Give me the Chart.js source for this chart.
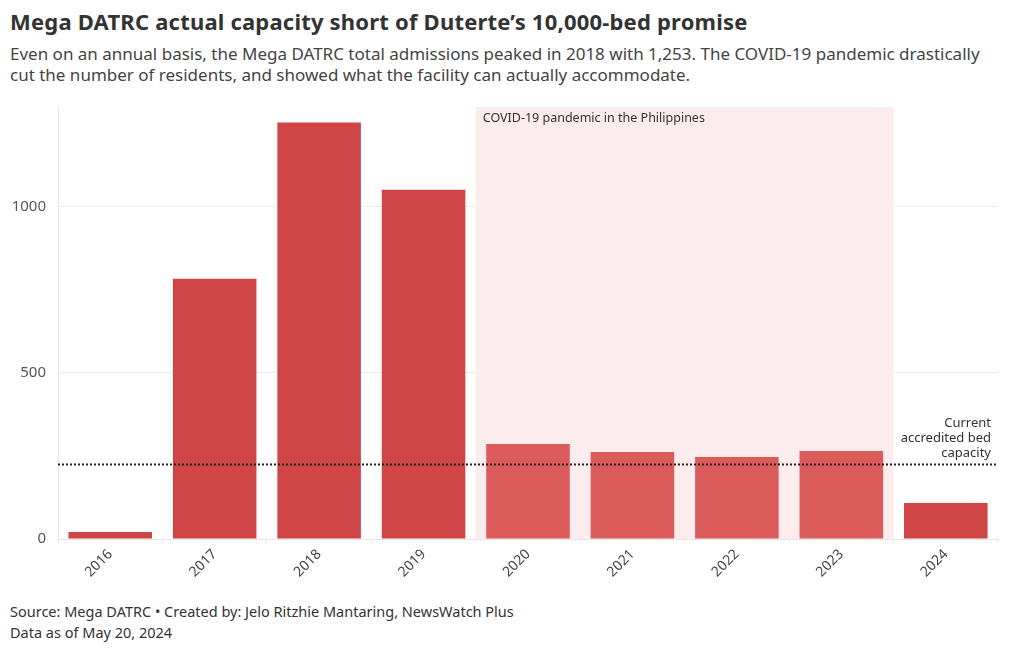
<!DOCTYPE html>
<html>
<head>
<meta charset="utf-8">
<script src="https://cdn.jsdelivr.net/npm/chart.js@4"></script>
<style>
  body { margin: 0; background: #fff; font-family: "Noto Sans", sans-serif; color: #333; }
  #title { position: absolute; left: 10px; top: 6px; font-size: 22px; font-weight: 700; letter-spacing: 0.2px; }
  #subtitle { position: absolute; left: 10px; top: 43px; width: 985px; font-size: 17px; line-height: 21px; color: #444; }
  #wrap { position: absolute; left: 0; top: 86px; width: 1020px; height: 514px; }
  #footer { position: absolute; left: 10px; top: 601px; font-size: 14.5px; line-height: 21px; color: #333; }
</style>
</head>
<body>
<div id="title">Mega DATRC actual capacity short of Duterte’s 10,000-bed promise</div>
<div id="subtitle">Even on an annual basis, the Mega DATRC total admissions peaked in 2018 with 1,253. The COVID-19 pandemic drastically cut the number of residents, and showed what the facility can actually accommodate.</div>
<div id="wrap"><canvas id="chart"></canvas></div>
<div id="footer">Source: Mega DATRC • Created by: Jelo Ritzhie Mantaring, NewsWatch Plus<br>Data as of May 20, 2024</div>
<script>
// ================= DATA =================
const years = ["2016", "2017", "2018", "2019", "2020", "2021", "2022", "2023", "2024"];
const admissions = [21, 783, 1253, 1051, 286, 262, 247, 265, 108];
const covidYears = ["2020", "2021", "2022", "2023"];
const bedCapacity = 226;
const yTicks = [0, 500, 1000];

const barColor = "#cf4545";
const covidBarColor = "#db5b5b";

// ================= PLUGINS =================
const covidShade = {
  id: "covidShade",
  beforeDatasetsDraw(chart) {
    const { ctx, chartArea, scales: { x } } = chart;
    const band = x.getPixelForValue(1) - x.getPixelForValue(0);
    const first = years.indexOf(covidYears[0]);
    const last = years.indexOf(covidYears[covidYears.length - 1]);
    const left = x.getPixelForValue(first) - band / 2;
    const right = x.getPixelForValue(last) + band / 2;
    ctx.save();
    ctx.fillStyle = "#fdeced";
    ctx.fillRect(left, chartArea.top, right - left, chartArea.bottom - chartArea.top);
    ctx.fillStyle = "#333";
    ctx.font = "12.5px 'Noto Sans'";
    ctx.textBaseline = "middle";
    ctx.fillText("COVID-19 pandemic in the Philippines", left + 7, chartArea.top + 11);
    ctx.restore();
  }
};

const capacityLine = {
  id: "capacityLine",
  afterDatasetsDraw(chart) {
    const { ctx, chartArea, scales: { y } } = chart;
    const py = Math.round(y.getPixelForValue(bedCapacity)) + 0.5;
    ctx.save();
    ctx.strokeStyle = "#222";
    ctx.lineWidth = 2;
    ctx.setLineDash([2, 2]);
    ctx.beginPath();
    ctx.moveTo(chartArea.left, py);
    ctx.lineTo(chartArea.right, py);
    ctx.stroke();
    ctx.fillStyle = "#333";
    ctx.font = "13px 'Noto Sans'";
    ctx.textAlign = "right";
    ctx.textBaseline = "middle";
    const lines = ["Current", "accredited bed", "capacity"];
    lines.forEach((t, i) => ctx.fillText(t, chartArea.right - 7, py - 41 + i * 15));
    ctx.restore();
  }
};

// ================= CHART =================
Chart.defaults.font.family = "'Noto Sans', sans-serif";
Chart.defaults.color = "#333";

new Chart(document.getElementById("chart"), {
  type: "bar",
  data: {
    labels: years,
    datasets: [{
      data: admissions,
      backgroundColor: years.map(yr => covidYears.includes(yr) ? covidBarColor : barColor),
      categoryPercentage: 0.8,
      barPercentage: 1
    }]
  },
  options: {
    responsive: true,
    maintainAspectRatio: false,
    animation: false,
    layout: { padding: { top: 7, right: 22, left: 0, bottom: 0 } },
    plugins: { legend: { display: false }, tooltip: { enabled: false } },
    scales: {
      x: {
        afterFit(scale) { scale.height = 61; },
        grid: { drawOnChartArea: false, color: "#e6e6e6", tickLength: 4 },
        border: { color: "#e6e6e6" },
        ticks: { maxRotation: 45, minRotation: 45, font: { size: 14 }, color: "#444", padding: 3 }
      },
      y: {
        min: 0,
        max: 1300,
        afterFit(scale) { scale.width = 58; },
        afterBuildTicks(scale) { scale.ticks = yTicks.map(v => ({ value: v })); },
        grid: { color: "#ececec", drawTicks: false },
        border: { color: "#e6e6e6" },
        ticks: { font: { size: 15 }, color: "#555", padding: 12, callback: v => String(v) }
      }
    }
  },
  plugins: [covidShade, capacityLine]
});
</script>
</body>
</html>
